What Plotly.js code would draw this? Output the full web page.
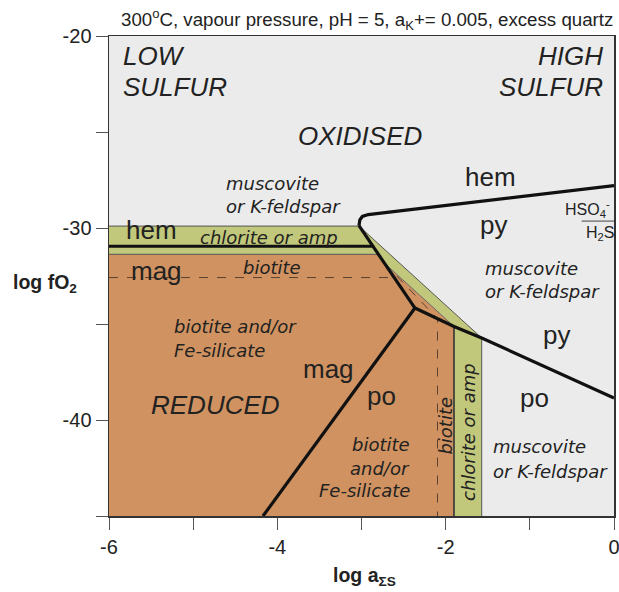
<!DOCTYPE html>
<html>
<head>
<meta charset="utf-8">
<script src="https://cdn.plot.ly/plotly-3.0.1.min.js"></script>
<style>html,body{margin:0;padding:0;background:#fff;}#chart{width:619px;height:592px;}</style>
</head>
<body>
<div id="chart"></div>
<script>
// ---------- axis ticks ----------
const xTickVals = [-6, -5, -4, -3, -2, -1, 0];
const xTickText = ['-6', '', '-4', '', '-2', '', '0'];
const yTickVals = [-45, -40, -35, -30, -25, -20];
const yTickText = ['', '-40', '', '-30', '', '-20'];

// ---------- stability-field fills (log aΣS, log fO2) ----------
const greenFieldX = [-6, -3.03, -1.572, -1.572, -1.901, -1.901, -2.73, -2.801, -6];
const greenFieldY = [-29.90, -29.90, -35.73, -45, -45, -35.13, -31.82, -31.37, -31.37];
const orangeFieldX = [-6, -2.801, -2.73, -1.901, -1.901, -6];
const orangeFieldY = [-31.37, -31.37, -31.82, -35.13, -45, -45];

// ---------- thick mineral boundaries ----------
const hemPyX = [0, -2.92, -2.99, -3.02, -3.03];
const hemPyY = [-27.79, -29.30, -29.40, -29.58, -29.88];
const pyMagX = [-3.03, -2.365];
const pyMagY = [-29.88, -34.17];
const hemMagX = [-6, -2.866];
const hemMagY = [-30.95, -30.95];
const pyPoX = [-2.365, -1.901, -1.572, 0];
const pyPoY = [-34.17, -35.13, -35.73, -38.85];
const magPoX = [-2.365, -4.17];
const magPoY = [-34.17, -45];

// ---------- thin silicate boundaries ----------
const greenTopX = [-6, -3.03];
const greenTopY = [-29.90, -29.90];
const diagUpperX = [-3.03, -1.572];
const diagUpperY = [-29.90, -35.73];
const orangeTopX = [-6, -2.801];
const orangeTopY = [-31.37, -31.37];
const wedgeX = [-2.73, -1.901];
const wedgeY = [-31.82, -35.13];
const stripLeftX = [-1.901, -1.901];
const stripLeftY = [-35.13, -45];
const stripRightX = [-1.572, -1.572];
const stripRightY = [-35.73, -45];
const sulfateLineX = [-0.385, 0];
const sulfateLineY = [-29.64, -29.64];

// ---------- dashed biotite limits ----------
const biotiteHX = [-6, -2.613];
const biotiteHY = [-32.58, -32.58];
const biotiteVX = [-2.73, -2.097, -2.097];
const biotiteVY = [-31.82, -34.72, -45];

// ---------- labels ----------
const regimeText = ['LOW', 'SULFUR', 'HIGH', 'SULFUR', 'OXIDISED', 'REDUCED'];
const regimeX = [-5.857, -5.857, -0.107, -0.107, -3.018, -4.729];
const regimeY = [-21.05, -22.66, -21.05, -22.66, -25.21, -39.22];
const regimeAnchor = ['left', 'left', 'right', 'right', 'center', 'center'];

const mineralText = ['hem', 'hem', 'mag', 'py', 'py', 'mag', 'po', 'po'];
const mineralX = [-1.473, -5.493, -5.44, -1.434, -0.689, -3.398, -2.768, -0.939];
const mineralY = [-27.34, -30.10, -32.25, -29.84, -35.57, -37.34, -38.73, -38.85];

const assemblText = ['muscovite', 'or K-feldspar', 'chlorite or amp', 'biotite',
  'biotite and/or', 'Fe-silicate', 'muscovite', 'or K-feldspar', 'muscovite', 'or K-feldspar'];
const assemblX = [-4.634, -4.634, -4.105, -4.067, -5.252, -5.252, -1.554, -1.554, -1.466, -1.466];
const assemblY = [-27.67, -28.89, -30.52, -32.05, -35.14, -36.39, -32.10, -33.32, -41.39, -42.69];
const assemblAnchor = ['left', 'left', 'center', 'center', 'left', 'left', 'left', 'left', 'left', 'left'];

const poSilText = ['biotite', 'and/or', 'Fe-silicate'];
const poSilX = [-2.40, -2.40, -2.40];
const poSilY = [-41.25, -42.52, -43.68];

const verticalText = ['biotite', 'chlorite or amp'];
const verticalX = [-1.996, -1.731];
const verticalY = [-40.29, -40.61];

const sulfateText = ['HSO<sub>4</sub><sup>-</sup>', 'H<sub>2</sub>S'];
const sulfateX = [-0.309, -0.172];
const sulfateY = [-29.01, -30.31];

// ---------- styling ----------
const GREY = '#ebebeb', GREEN = '#c2c87b', ORANGE = '#d09260';
const SANS = 'Liberation Sans, Arial, sans-serif';
const WIDE = 'DejaVu Sans, sans-serif';
const INK = '#222';

function fillTrace(x, y, color) {
  return {x, y, type: 'scatter', mode: 'lines', fill: 'toself', fillcolor: color,
    line: {width: 0}, hoverinfo: 'skip', showlegend: false};
}
function lineTrace(x, y, width, color, dash) {
  return {x, y, type: 'scatter', mode: 'lines',
    line: {width, color, dash: dash || 'solid'}, hoverinfo: 'skip', showlegend: false};
}

const traces = [
  fillTrace(greenFieldX, greenFieldY, GREEN),
  fillTrace(orangeFieldX, orangeFieldY, ORANGE),
  lineTrace(greenTopX, greenTopY, 1, '#555'),
  lineTrace(diagUpperX, diagUpperY, 1, '#555'),
  lineTrace(orangeTopX, orangeTopY, 1, '#555'),
  lineTrace(wedgeX, wedgeY, 1, '#666'),
  lineTrace(stripLeftX, stripLeftY, 1.6, '#333'),
  lineTrace(stripRightX, stripRightY, 1, '#555'),
  lineTrace(sulfateLineX, sulfateLineY, 1, '#444'),
  lineTrace(biotiteHX, biotiteHY, 1, '#5a4030', 'dash'),
  lineTrace(biotiteVX, biotiteVY, 1, '#5a4030', 'dash'),
  lineTrace(hemPyX, hemPyY, 3.2, '#111'),
  lineTrace(pyMagX, pyMagY, 3.2, '#111'),
  lineTrace(hemMagX, hemMagY, 3.2, '#111'),
  lineTrace(pyPoX, pyPoY, 3.2, '#111'),
  lineTrace(magPoX, magPoY, 3.2, '#111')
];

const annotations = [];
function addLabels(texts, xs, ys, font, anchors, extra) {
  texts.forEach((t, i) => {
    annotations.push(Object.assign({
      text: t, x: xs[i], y: ys[i], xref: 'x', yref: 'y', showarrow: false,
      xanchor: anchors ? anchors[i] : 'center', yanchor: 'middle', font
    }, extra || {}));
  });
}
addLabels(regimeText, regimeX, regimeY, {family: SANS, size: 26, color: INK, style: 'italic'}, regimeAnchor);
addLabels(mineralText, mineralX, mineralY, {family: SANS, size: 26, color: INK});
addLabels(assemblText, assemblX, assemblY, {family: WIDE, size: 18, color: INK, style: 'italic'}, assemblAnchor);
addLabels(poSilText, poSilX, poSilY, {family: WIDE, size: 18, color: INK, style: 'italic'}, ['right', 'right', 'right']);
addLabels(verticalText, verticalX, verticalY, {family: WIDE, size: 18, color: INK, style: 'italic'}, null, {textangle: -90});
addLabels(sulfateText, sulfateX, sulfateY, {family: SANS, size: 16, color: INK});

annotations.push({
  text: '300<sup>o</sup>C, vapour pressure, pH = 5, a<sub>K</sub>+= 0.005, excess quartz',
  xref: 'paper', yref: 'paper', x: 0.51, y: 1.035, xanchor: 'center', yanchor: 'middle',
  showarrow: false, font: {family: SANS, size: 18.7, color: INK}
});
annotations.push({
  text: '<b>log fO<sub>2</sub></b>', xref: 'paper', yref: 'paper', x: -0.127, y: 0.485,
  xanchor: 'center', yanchor: 'middle', showarrow: false, font: {family: SANS, size: 19.5, color: INK}
});
annotations.push({
  text: '<b>log a<sub>ΣS</sub></b>', xref: 'paper', yref: 'paper', x: 0.505, y: -0.127,
  xanchor: 'center', yanchor: 'middle', showarrow: false, font: {family: SANS, size: 19.5, color: INK}
});

const axisCommon = {
  showgrid: false, zeroline: false, showline: true, mirror: true,
  linecolor: '#333', linewidth: 1.5, ticks: 'outside', ticklen: 12, tickwidth: 1,
  tickcolor: '#555', tickmode: 'array', tickfont: {family: SANS, size: 20, color: INK},
  ticklabeloverflow: 'allow', fixedrange: true
};

const layout = {
  width: 619, height: 592,
  margin: {l: 109, r: 5, t: 36, b: 76},
  paper_bgcolor: '#ffffff', plot_bgcolor: GREY,
  showlegend: false,
  xaxis: Object.assign({}, axisCommon, {range: [-6, 0], tickvals: xTickVals, ticktext: xTickText}),
  yaxis: Object.assign({}, axisCommon, {range: [-45, -20], tickvals: yTickVals, ticktext: yTickText}),
  annotations
};

Plotly.newPlot('chart', traces, layout, {staticPlot: true, displayModeBar: false});
</script>
</body>
</html>
